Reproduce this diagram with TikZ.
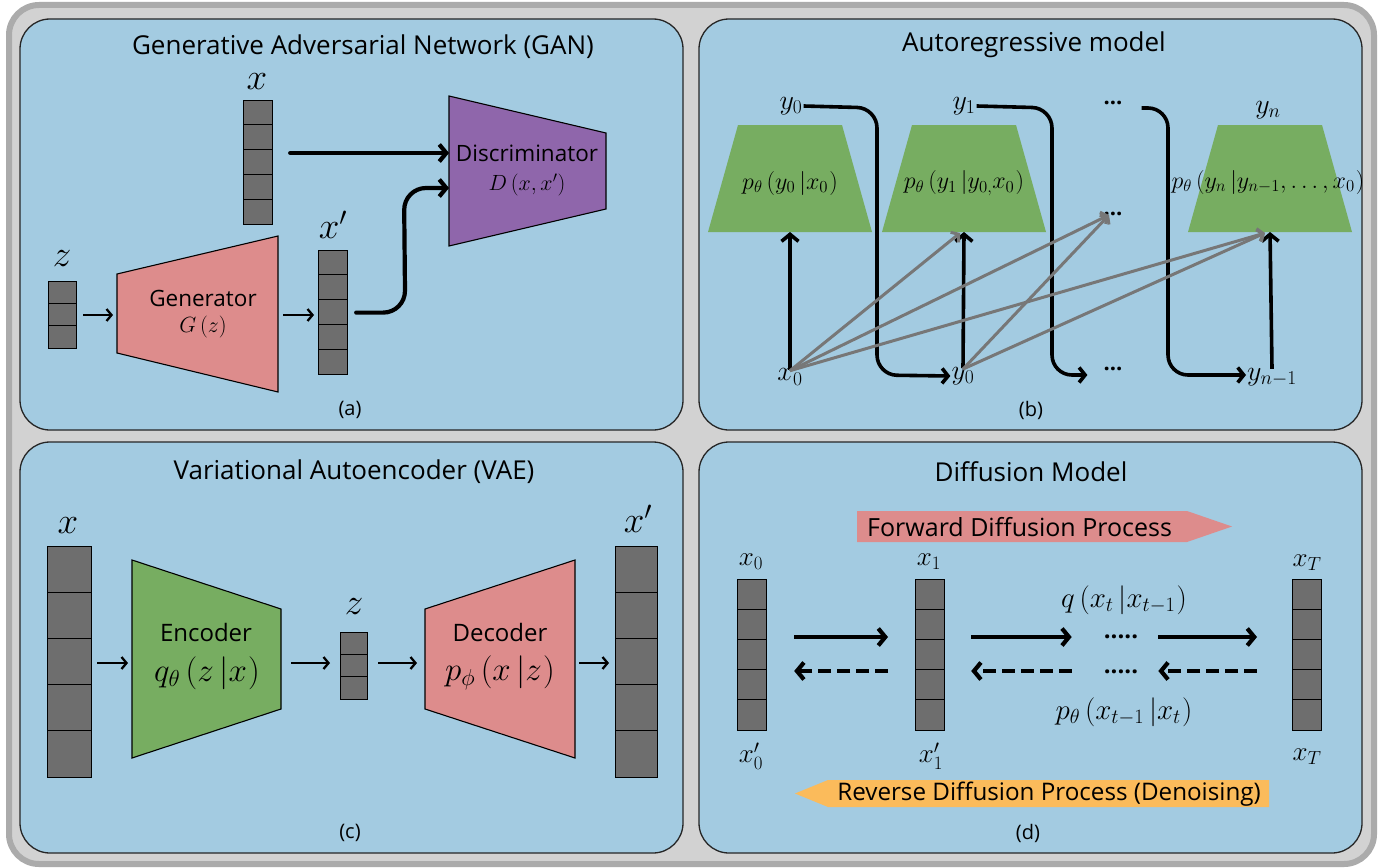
\RequirePackage{fix-cm}
\documentclass[tikz,border=0pt]{standalone}
\usepackage{fontspec}
\setmainfont{Open Sans}
\usetikzlibrary{arrows.meta,calc}
\definecolor{framefill}{HTML}{D2D2D2}
\definecolor{framedark}{HTML}{ABABAB}
\definecolor{panelblue}{HTML}{A3CBE1}
\definecolor{greenc}{HTML}{77AD61}
\definecolor{pinkc}{HTML}{DD8C8C}
\definecolor{purplec}{HTML}{8F66AB}
\definecolor{orangec}{HTML}{FBBB5B}
\definecolor{cellgray}{HTML}{6E6E6E}
\definecolor{arrgray}{HTML}{777777}
\newcommand{\cellvec}[6]{%
  \node[cellbox, minimum width={(#3-#2)*1pt}, minimum height={(#5-#4)*1pt}, anchor=north west] (#1) at (#2,#4) {};
  \pgfmathsetmacro{\cvh}{(#5-#4)/#6}
  \foreach \k in {2,...,#6}{\draw[cellline] (#2,{#4+(\k-1)*\cvh}) -- (#3,{#4+(\k-1)*\cvh});}
}
\begin{document}
\begin{tikzpicture}[x=1pt,y=-1pt,
  panel/.style={fill=panelblue, draw=black!85, line width=1.3pt, rounded corners=30pt},
  ttl/.style={font=\fontsize{26}{30}\selectfont, inner sep=0pt},
  sublbl/.style={font=\fontsize{20}{24}\selectfont, inner sep=0pt},
  boxtxt/.style={font=\fontsize{22.5}{26}\selectfont, inner sep=0pt},
  bigtxt/.style={font=\fontsize{24}{28}\selectfont, inner sep=0pt},
  biglbl/.style={font=\fontsize{37}{40}\selectfont, inner sep=0pt},
  mathsm/.style={font=\fontsize{22}{26}\selectfont, inner sep=0pt},
  mathbig/.style={font=\fontsize{33}{38}\selectfont, inner sep=0pt},
  arlbl/.style={font=\fontsize{28}{32}\selectfont, inner sep=1pt},
  dotlbl/.style={font=\fontsize{22}{26}\selectfont\bfseries, inner sep=1pt},
  arp/.style={font=\fontsize{24}{28}\selectfont, inner sep=0pt},
  dflbl/.style={font=\fontsize{27}{30}\selectfont, inner sep=0pt},
  dfdots/.style={font=\fontsize{24}{28}\selectfont\bfseries, inner sep=0pt, anchor=base},
  dfeq/.style={font=\fontsize{29}{32}\selectfont, inner sep=0pt},
  proctxt/.style={font=\fontsize{25}{28}\selectfont, inner sep=0pt},
  cellbox/.style={draw=black, fill=cellgray, line width=1.2pt, inner sep=0pt, rectangle},
  cellline/.style={draw=black, line width=1.2pt},
  trap/.style={draw=black, line width=1.1pt},
  thinarr/.style={draw=black, line width=2.3pt, -{Straight Barb[length=5pt,width=12pt]}},
  thickarr/.style={draw=black, line width=4.2pt, line cap=round, -{Straight Barb[length=7pt,width=17pt]}},
  conn/.style={draw=black, line width=3.6pt, rounded corners=20pt, -{Straight Barb[length=6pt,width=15pt]}},
  grayarr/.style={draw=arrgray, line width=3pt, -{Straight Barb[length=5pt,width=13pt]}},
  dasharr/.style={draw=black, line width=4.2pt, dash pattern=on 13pt off 6pt, -{Straight Barb[length=7pt,width=17pt]}}
]
\useasboundingbox (0,0) rectangle (1391,867);
% outer frame
\draw[draw=framedark, fill=framefill, line width=6pt, rounded corners=30pt] (9,5) rectangle (1374,864);
% panels
\draw[panel] (20,19) rectangle (683,430);
\draw[panel] (699,19) rectangle (1362,430);
\draw[panel] (20,442) rectangle (683,853);
\draw[panel] (699,442) rectangle (1362,853);

% ================= (a) GAN =================
\node[ttl] (tA) at (363,47) {Generative Adversarial Network (GAN)};
\cellvec{xa}{243}{272}{100}{224}{5}
\node[biglbl] (lxa) at (257,82) {$x$};
\cellvec{za}{48}{76}{281}{348}{3}
\node[biglbl] (lza) at (62,259) {$z$};
\cellvec{xpa}{318}{347}{250}{374}{5}
\node[biglbl] (lxpa) at (333,225) {$x'$};
\draw[trap, fill=purplec] (449,96) -- (606,133) -- (606,209) -- (449,246) -- cycle;
\node[boxtxt] (disc) at (527,153) {Discriminator};
\node[mathsm] (dfun) at (527,185) {$D\left(x,x'\right)$};
\draw[trap, fill=pinkc] (117,274) -- (278,236) -- (278,392) -- (117,353) -- cycle;
\node[boxtxt] (gen) at (203,298) {Generator};
\node[mathsm] (gfun) at (203,327) {$G\left(z\right)$};
\coordinate (genL) at (117,315);
\coordinate (genR) at (278,315);
\coordinate (discA) at (449,153);
\coordinate (discB) at (449,188);
\draw[thinarr] ([xshift=6pt]za.east|-genL) -- ([xshift=-4pt]genL);
\draw[thinarr] ([xshift=5pt]genR) -- ([xshift=-4pt]xpa.west|-genR);
\draw[thickarr] ($(xa.east|-discA)+(17,0)$) -- (discA);
\draw[thickarr, rounded corners=22pt] ([xshift=8pt]xpa.east) -- ($(xpa.east)+(57,0)$) -- (404,188) -- (discB);
\node[sublbl] (capA) at (350,410) {(a)};

% ================= (b) Autoregressive =================
\node[ttl] (tB) at (1034,45) {Autoregressive model};
\fill[greenc] (738,125) -- (842,125) -- (872,232) -- (708,232) -- cycle;
\fill[greenc] (912,125) -- (1016,125) -- (1046,232) -- (882,232) -- cycle;
\fill[greenc] (1218,125) -- (1322,125) -- (1352,232) -- (1188,232) -- cycle;
\node[arp] (p1) at (790,183) {$p_\theta\left(y_0\left|x_0\right.\right)$};
\node[arp] (p2) at (964,183) {$p_\theta\left(y_1\left|y_{0,}x_0\right.\right)$};
\node[arp] (p3) at (1268,182) {$p_\theta\left(y_n\left|y_{n-1},\ldots,x_0\right.\right)$};
\coordinate (b1) at (790,232);
\coordinate (b2) at (964,232);
\coordinate (b3) at (1270,232);
\coordinate (b2g) at (960,233);
\coordinate (b3g) at (1265,233);
\node[arlbl] (ty0) at (791,106) {$y_0$};
\node[arlbl] (ty1) at (964,106) {$y_1$};
\node[dotlbl] (tdots) at (1113,103) {...};
\node[arlbl] (tyn) at (1268,110) {$y_n$};
\node[arlbl] (bx0) at (790,377) {$x_0$};
\node[arlbl] (by0) at (963,376) {$y_0$};
\node[dotlbl] (bdots) at (1113,369) {...};
\node[arlbl] (byn) at (1272,377) {$y_{n-1}$};
\node[dotlbl] (mdots) at (1113,214) {...};
\draw[conn] (ty0.east) -- (877,108) -- (877,375) -- (by0.west);
\draw[conn] (ty1.east) -- (1052,108) -- (1052,375) -- ([xshift=-15pt]bdots.west|-0,375);
\draw[conn] ([xshift=18pt]tdots.east|-0,108) -- (1168,108) -- (1168,375) -- (byn.west|-0,375);
\draw[thickarr, line width=3.6pt, line cap=butt] ([yshift=-2pt]bx0.north) -- (b1);
\draw[thickarr, line width=3.6pt, line cap=butt] ([yshift=-2pt]by0.north) -- (b2);
\draw[thickarr, line width=3.6pt, line cap=butt] ([yshift=-2pt]byn.north) -- (b3);
\draw[grayarr] ([yshift=-3pt]bx0.north) -- (b2g);
\draw[grayarr] ([yshift=-3pt]bx0.north) -- ([xshift=-4pt,yshift=2pt]mdots.south);
\draw[grayarr] ([yshift=-3pt]bx0.north) -- (b3g);
\draw[grayarr] ([yshift=-3pt]by0.north) -- ([xshift=-4pt,yshift=2pt]mdots.south);
\draw[grayarr] ([yshift=-3pt]by0.north) -- (b3g);
\node[sublbl] (capB) at (1031,410) {(b)};

% ================= (c) VAE =================
\node[ttl] (tC) at (354,472) {Variational Autoencoder (VAE)};
\cellvec{xc}{47}{91}{546}{777}{5}
\node[biglbl] (lxc) at (68,526) {$x$};
\cellvec{zc}{340}{367}{632}{699}{3}
\node[biglbl] (lzc) at (354,607) {$z$};
\cellvec{xpc}{615}{657}{546}{777}{5}
\node[biglbl] (lxpc) at (638,519) {$x'$};
\draw[trap, fill=greenc] (132,560) -- (281,609) -- (281,709) -- (132,758) -- cycle;
\node[bigtxt] (enc) at (206,632) {Encoder};
\node[mathbig] (qfun) at (207,673) {$q_\theta\left(z\left|x\right.\right)$};
\draw[trap, fill=pinkc] (425,609) -- (575,560) -- (575,758) -- (425,709) -- cycle;
\node[bigtxt] (dec) at (500,632) {Decoder};
\node[mathbig] (pfun) at (500,673) {$p_\phi\left(x\left|z\right.\right)$};
\coordinate (encL) at (132,663);
\coordinate (encR) at (281,663);
\coordinate (decL) at (425,663);
\coordinate (decR) at (575,663);
\draw[thinarr] ([xshift=5pt]xc.east|-encL) -- ([xshift=-4pt]encL);
\draw[thinarr] ([xshift=10pt]encR) -- ([xshift=-10pt]zc.west|-encR);
\draw[thinarr] ([xshift=10pt]zc.east|-decL) -- ([xshift=-8pt]decL);
\draw[thinarr] ([xshift=4pt]decR) -- ([xshift=-6pt]xpc.west|-decR);
\node[sublbl] (capC) at (350,833) {(c)};

% ================= (d) Diffusion =================
\node[ttl] (tD) at (1031,472) {Diffusion Model};
\fill[pinkc] (857,511) -- (1187,511) -- (1232,526.5) -- (1187,542) -- (857,542) -- cycle;
\node[proctxt, anchor=west] (fwd) at (867,527) {Forward Diffusion Process};
\fill[orangec] (795,793.5) -- (828,780) -- (1269,780) -- (1269,807) -- (828,807) -- cycle;
\node[proctxt, font=\fontsize{24.2}{28}\selectfont, anchor=east] (rev) at (1261,794) {Reverse Diffusion Process (Denoising)};
\cellvec{d0}{737}{766}{579}{730}{5}
\cellvec{d1}{915}{944}{579}{730}{5}
\cellvec{dT}{1292}{1321}{579}{730}{5}
\node[dflbl] (ld0) at (751,562) {$x_0$};
\node[dflbl] (ld1) at (929,562) {$x_1$};
\node[dflbl] (ldT) at (1307,563) {$x_T$};
\node[dflbl] (lpd0) at (751,756) {$x'_0$};
\node[dflbl] (lpd1) at (931,756) {$x'_1$};
\node[dflbl] (lpdT) at (1307,757) {$x_T$};
\node[dfdots] (fdots) at (1121,638) {.....};
\node[dfdots] (rdots) at (1121,673) {.....};
\node[dfeq] (qeq) at (1124,600) {$q\left(x_t\left|x_{t-1}\right.\right)$};
\node[dfeq] (peq) at (1124,712) {$p_\theta\left(x_{t-1}\left|x_t\right.\right)$};
\coordinate (fy) at (0,637);
\coordinate (ry) at (0,671);
\draw[thickarr, line cap=butt] ($(d0.east|-fy)+(27,0)$) -- ($(d1.west|-fy)+(-27,0)$);
\draw[thickarr, line cap=butt] ($(d1.east|-fy)+(26,0)$) -- ($(fdots.west|-fy)+(-32,0)$);
\draw[thickarr, line cap=butt] ($(fdots.east|-fy)+(20,0)$) -- ($(dT.west|-fy)+(-35,0)$);
\draw[dasharr] ($(d1.west|-ry)+(-27,0)$) -- ($(d0.east|-ry)+(27,0)$);
\draw[dasharr] ($(rdots.west|-ry)+(-32,0)$) -- ($(d1.east|-ry)+(26,0)$);
\draw[dasharr] ($(dT.west|-ry)+(-35,0)$) -- ($(rdots.east|-ry)+(20,0)$);
\node[sublbl] (capD) at (1028,833) {(d)};
\end{tikzpicture}
\end{document}
